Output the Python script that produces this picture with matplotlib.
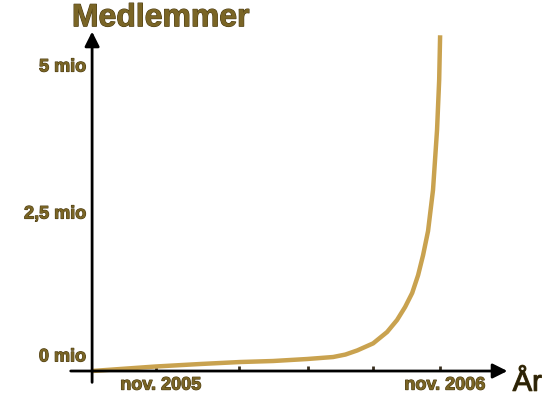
import matplotlib.pyplot as plt
import matplotlib.patheffects as pe

# months relative to nov. 2005, members in millions
months = [-2.70, -1.52, 0.0, 1.86, 3.55, 4.94, 6.38, 7.48, 8.0, 8.5, 9.17, 9.76, 10.18,
          10.52, 10.82, 11.07, 11.28, 11.49, 11.70, 11.87, 11.96, 12.0]
members = [0.0, 0.034, 0.077, 0.119, 0.153, 0.170, 0.204, 0.238, 0.28, 0.35, 0.47, 0.663, 0.867,
           1.088, 1.327, 1.63, 1.97, 2.38, 3.08, 4.10, 4.95, 5.71]

tick_pos = [0.0, 3.51, 6.42, 9.17, 12.0]
tick_labels = ['nov. 2005', '', '', '', 'nov. 2006']
y_label_pos = [0.24, 2.67, 5.17]
y_labels = ['0 mio', '2,5 mio', '5 mio']

txt_color = '#7a6526'
outline = [pe.withStroke(linewidth=0.8, foreground='#4a3a10')]

fig = plt.figure(figsize=(5.45, 3.99), dpi=100)
ax = fig.add_axes([0, 0, 1, 1])
ax.set_xlim(-6.59, 16.43)
ax.set_ylim(-0.476, 6.31)
ax.axis('off')

# axes with arrows
ax.annotate('', xy=(14.96, 0), xytext=(-3.72, 0),
            arrowprops=dict(arrowstyle='-|>', color='black', lw=2, mutation_scale=22))
ax.annotate('', xy=(-2.70, 5.82), xytext=(-2.70, -0.24),
            arrowprops=dict(arrowstyle='-|>', color='black', lw=2, mutation_scale=22))

ax.vlines(tick_pos, 0, 0.09, color='#3a3020', lw=2)

ax.plot(months, members, color='#c9a24f', lw=3.2, solid_capstyle='butt', solid_joinstyle='round')

fontname = 'Liberation Sans'
for x, lab in zip(tick_pos, tick_labels):
    if lab:
        ax.text(x + 0.2, -0.24, lab, ha='center', va='center', fontsize=13,
                fontweight='bold', color=txt_color, family=fontname, path_effects=outline)
for y, lab in zip(y_label_pos, y_labels):
    ax.text(-2.95, y, lab, ha='right', va='center', fontsize=13,
            fontweight='bold', color=txt_color, family=fontname, path_effects=outline)

ax.text(0.2, 6.0, 'Medlemmer', ha='center', va='center', fontsize=23,
        fontweight='bold', color=txt_color, family=fontname, path_effects=outline)
ax.text(16.3, -0.2, 'År', ha='right', va='center', fontsize=21,
        color='#2a2208', family=fontname, path_effects=outline)

fig.savefig('out.png', dpi=100)
